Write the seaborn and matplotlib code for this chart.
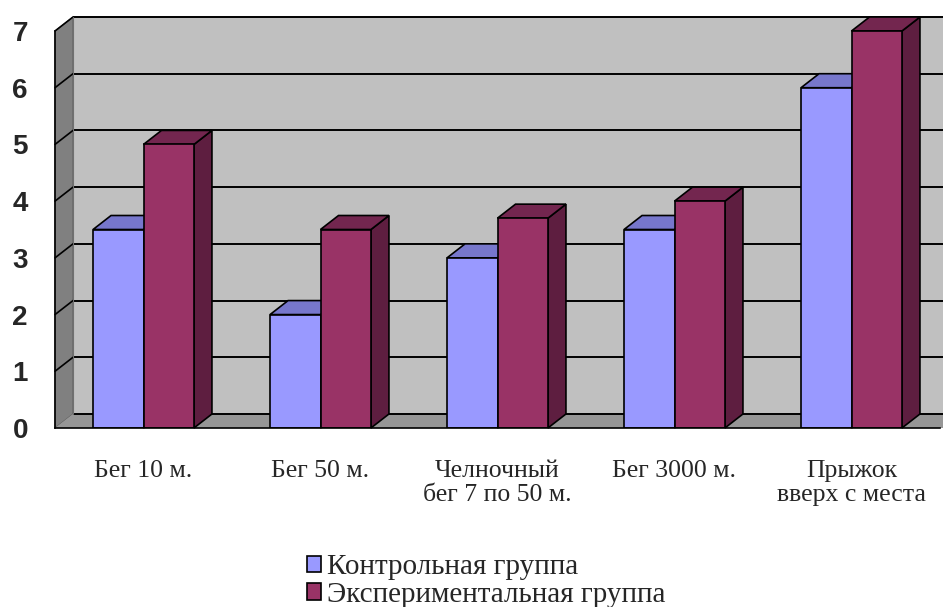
import matplotlib
matplotlib.use("Agg")
import matplotlib.pyplot as plt
from matplotlib.patches import Polygon, Rectangle, Patch
import seaborn as sns
import pandas as pd

categories = ["Бег 10 м.", "Бег 50 м.", "Челночный\nбег 7 по 50 м.",
              "Бег 3000 м.", "Прыжок\nвверх с места"]
groups = ["Контрольная группа", "Экспериментальная группа"]
control = [3.5, 2.0, 3.0, 3.5, 6.0]
experimental = [5.0, 3.5, 3.7, 4.0, 7.0]
y_ticks = [0, 1, 2, 3, 4, 5, 6, 7]

face_colors = ["#9999FF", "#993366"]
top_colors = ["#7777CC", "#73264F"]
side_colors = ["#6666AA", "#5E1E40"]
wall_color = "#C0C0C0"
side_wall_color = "#808080"
floor_color = "#969696"

df = pd.DataFrame({
    "cat": categories * 2,
    "grp": [groups[0]] * 5 + [groups[1]] * 5,
    "val": control + experimental,
})

W, H = 943, 607
fig = plt.figure(figsize=(W / 100, H / 100), dpi=100)
sns.set_style("white")

# front plane: x 55..940 px, y=0 at 428 px, y=7 at 31 px
px_per_y = (428 - 31) / 7.0
px_per_x = (940 - 55) / 5.0
dx = 18 / px_per_x           # depth offset in data units
dy = 14 / px_per_y
ytop = 7 + dy
ax = fig.add_axes([55 / W, (H - 428) / H, (940 - 55) / W, (428 - 17) / H])
ax.set_xlim(-0.5, 4.5)
ax.set_ylim(0, ytop)
ax.patch.set_alpha(0)

xr = 4.5 + 3 / px_per_x
# back wall
ax.add_patch(Rectangle((-0.5 + dx, dy), xr - (-0.5 + dx), 7, facecolor=wall_color,
                       edgecolor="none", zorder=0.5, clip_on=False))
# left wall
ax.add_patch(Polygon([(-0.5, 0), (-0.5, 7), (-0.5 + dx, ytop), (-0.5 + dx, dy)],
                     closed=True, facecolor=side_wall_color, edgecolor="#606060",
                     linewidth=0.8, zorder=0.6, clip_on=False))
# floor
ax.add_patch(Polygon([(-0.5, 0), (xr, 0), (xr, dy), (-0.5 + dx, dy)],
                     closed=True, facecolor=floor_color, edgecolor="none",
                     zorder=0.6, clip_on=False))
# gridlines on walls
for k in range(0, 8):
    ax.plot([-0.5 + dx, xr], [k + dy, k + dy], color="black", lw=1.4,
            zorder=0.8, clip_on=False, solid_capstyle="butt")
    if k > 0:
        ax.plot([-0.5, -0.5 + dx], [k, k + dy], color="black", lw=1.2,
                zorder=0.8, clip_on=False)
ax.plot([-0.5 + dx, -0.5 + dx], [dy, ytop], color="#707070", lw=0.8, zorder=0.8)

sns.barplot(data=df, x="cat", y="val", hue="grp", palette=face_colors,
            hue_order=groups, order=categories, width=0.57, gap=0,
            saturation=1, edgecolor="black", linewidth=1.2, legend=False,
            ax=ax, zorder=3)

# depth faces of each column
bars = [p for p in ax.patches if isinstance(p, Rectangle) and p.get_zorder() == 3]
for i, b in enumerate(bars):
    g = 0 if i < 5 else 1
    x0, w, h = b.get_x(), b.get_width(), b.get_height()
    x1 = x0 + w
    side = Polygon([(x1, 0), (x1 + dx, dy), (x1 + dx, h + dy), (x1, h)], closed=True,
                   facecolor=side_colors[g], edgecolor="black", linewidth=1.2,
                   zorder=2, clip_on=False)
    top = Polygon([(x0, h), (x1, h), (x1 + dx, h + dy), (x0 + dx, h + dy)], closed=True,
                  facecolor=top_colors[g], edgecolor="black", linewidth=1.2,
                  zorder=2, clip_on=False)
    ax.add_patch(side)
    ax.add_patch(top)

for s in ["top", "right"]:
    ax.spines[s].set_visible(False)
ax.spines["left"].set_bounds(0, 7)
ax.spines["left"].set_color("black")
ax.spines["bottom"].set_color("black")
ax.spines["left"].set_linewidth(1.2)
ax.spines["bottom"].set_linewidth(1.2)
ax.spines["left"].set_zorder(4)
ax.spines["bottom"].set_zorder(4)

ax.set_yticks(y_ticks)
ax.set_yticklabels([str(t) for t in y_ticks], fontfamily="Liberation Sans",
                   fontsize=20, fontweight="bold")
ax.tick_params(axis="y", direction="out", length=7.5, width=1, color="black", pad=12)
ax.set_xticks(range(5))
ax.set_xticklabels(categories, fontfamily="Liberation Serif", fontsize=18.5,
                   linespacing=1.15)
ax.set_xticks([-0.5, 0.5, 1.5, 2.5, 3.5, 4.5], minor=True)
ax.tick_params(axis="x", which="major", length=0, pad=23)
ax.tick_params(axis="x", which="minor", direction="out", length=6, width=1, color="black")
ax.set_xlabel("")
ax.set_ylabel("")

handles = [Patch(facecolor=face_colors[i], edgecolor="black", linewidth=1.2)
           for i in range(2)]
fig.legend(handles, groups, loc="center", bbox_to_anchor=(486 / W, 1 - 581 / H),
           frameon=False, prop={"family": "Liberation Serif", "size": 21},
           handlelength=0.5, handleheight=0.5, handletextpad=0.2,
           labelspacing=0.05, borderpad=0)

fig.savefig("out.png", dpi=100)
